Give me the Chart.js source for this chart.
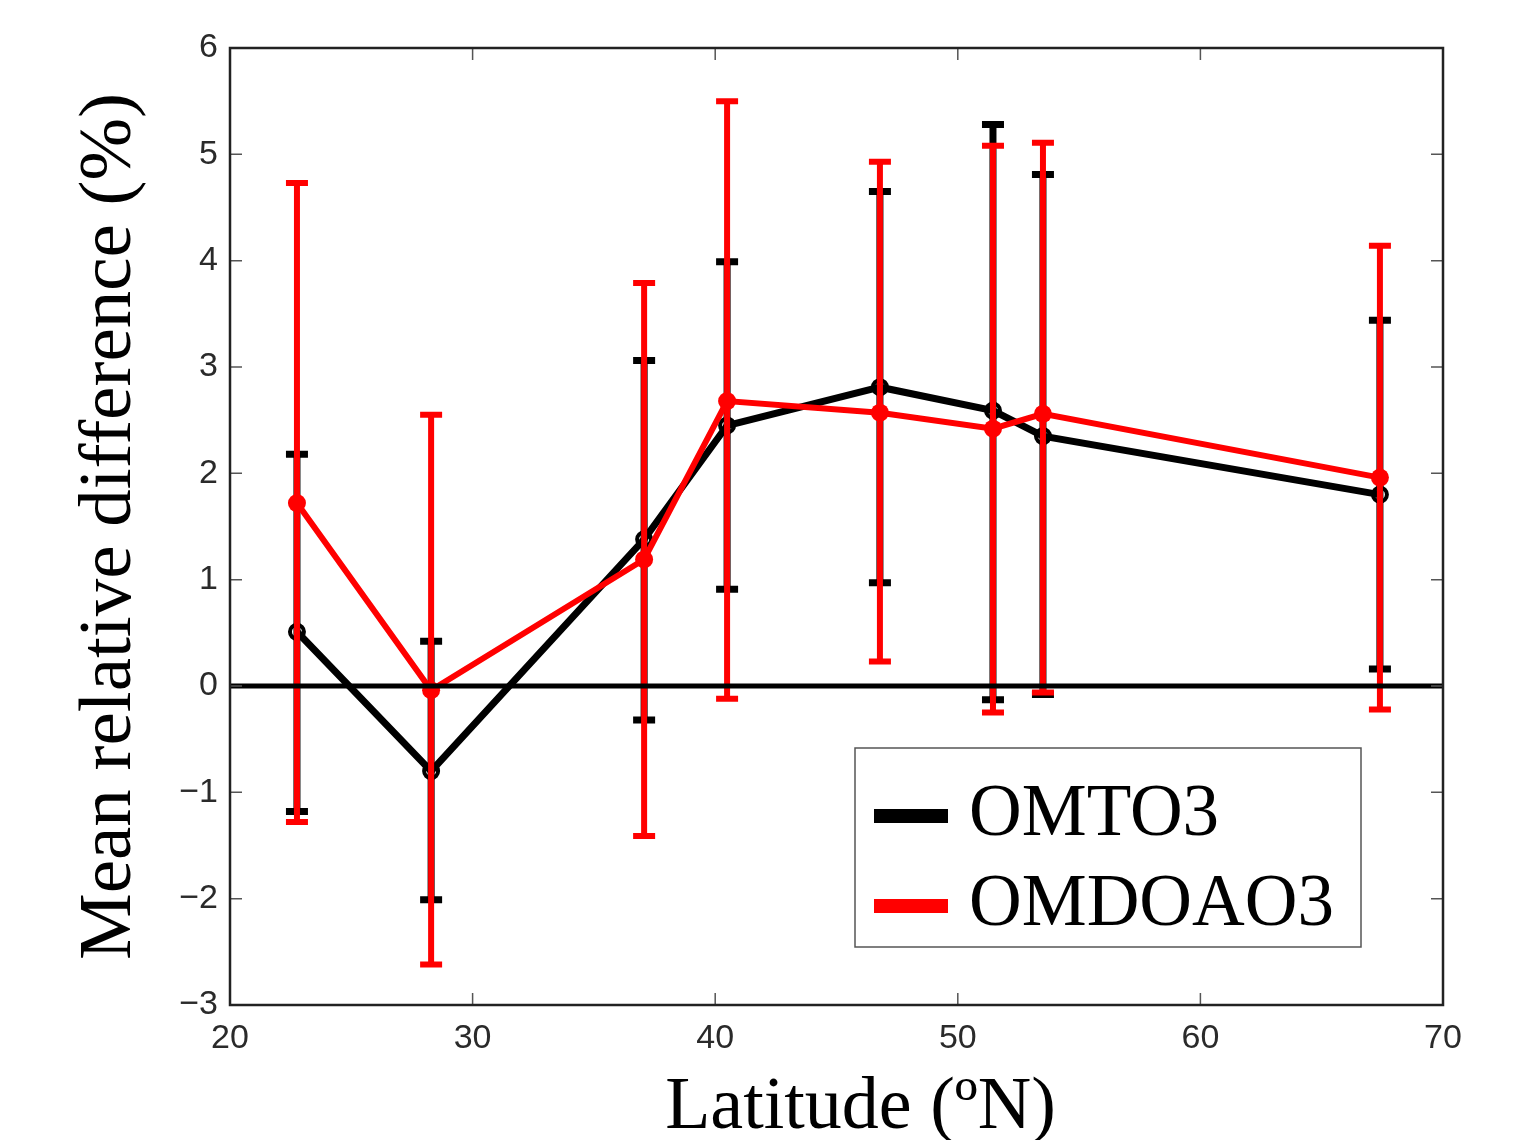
<!DOCTYPE html>
<html>
<head>
<meta charset="utf-8">
<script src="https://cdn.jsdelivr.net/npm/chart.js@4.4.1/dist/chart.umd.min.js"></script>
<style>
    html, body { margin: 0; padding: 0; background: #fff; }
    #grafico { display: block; }
</style>
</head>
<body>
<canvas id="grafico" width="1521" height="1140"></canvas>
<script>
// #region Dados

var latitudes = [22.76, 28.29, 37.07, 40.49, 46.79, 51.45, 53.51, 67.4];

var omto3Media = [0.51, -0.80, 1.38, 2.45, 2.81, 2.59, 2.35, 1.80];
var omto3Superior = [2.18, 0.42, 3.06, 3.99, 4.65, 5.28, 4.81, 3.44];
var omto3Inferior = [-1.18, -2.01, -0.32, 0.91, 0.97, -0.13, -0.08, 0.16];

var omdoao3Media = [1.72, -0.04, 1.19, 2.68, 2.57, 2.42, 2.56, 1.96];
var omdoao3Superior = [4.73, 2.55, 3.79, 5.50, 4.93, 5.08, 5.11, 4.14];
var omdoao3Inferior = [-1.28, -2.62, -1.41, -0.12, 0.23, -0.25, -0.06, -0.22];

var ticksX = [20, 30, 40, 50, 60, 70];
var ticksY = [-3, -2, -1, 0, 1, 2, 3, 4, 5, 6];

var tituloX = 'Latitude (ºN)';
var tituloY = 'Mean relative difference (%)';

// #endregion Dados

var FONTE_SERIFA = '"Liberation Serif", "DejaVu Serif", serif';

function montarPontos(valores) {
    return latitudes.map(function (lat, i) { return { x: lat, y: valores[i] }; });
}

// barras de erro desenhadas antes de cada serie, pelas escalas do grafico
var pluginBarrasErro = {
    id: 'barrasErro',
    beforeDatasetDraw: function (chart, args) {
        var ds = chart.data.datasets[args.index];
        if (!ds.erroSuperior) return;
        var ctx = chart.ctx, sx = chart.scales.x, sy = chart.scales.y;
        ctx.save();
        ctx.strokeStyle = ds.borderColor;
        ctx.lineWidth = ds.larguraErro;
        ctx.lineCap = 'butt';
        latitudes.forEach(function (lat, i) {
            var px = sx.getPixelForValue(lat);
            var top = sy.getPixelForValue(ds.erroSuperior[i]);
            var bot = sy.getPixelForValue(ds.erroInferior[i]);
            ctx.beginPath();
            ctx.moveTo(px, top); ctx.lineTo(px, bot);
            ctx.moveTo(px - 11, top); ctx.lineTo(px + 11, top);
            ctx.moveTo(px - 11, bot); ctx.lineTo(px + 11, bot);
            ctx.stroke();
        });
        ctx.restore();
    }
};

// linha do zero, moldura com ticks internos, titulo do eixo x e legenda em caixa
var pluginMoldura = {
    id: 'moldura',
    afterDatasetsDraw: function (chart) {
        var ctx = chart.ctx, a = chart.chartArea, sx = chart.scales.x, sy = chart.scales.y;
        ctx.save();

        var y0 = sy.getPixelForValue(0);
        ctx.strokeStyle = '#000';
        ctx.lineWidth = 5;
        ctx.beginPath();
        ctx.moveTo(a.left, y0); ctx.lineTo(a.right, y0);
        ctx.stroke();

        ctx.strokeStyle = '#555';
        ctx.lineWidth = 1.5;
        ctx.beginPath();
        sx.ticks.forEach(function (t) {
            var px = sx.getPixelForValue(t.value);
            ctx.moveTo(px, a.bottom); ctx.lineTo(px, a.bottom - 12);
            ctx.moveTo(px, a.top); ctx.lineTo(px, a.top + 12);
        });
        sy.ticks.forEach(function (t) {
            var py = sy.getPixelForValue(t.value);
            ctx.moveTo(a.left, py); ctx.lineTo(a.left + 12, py);
            ctx.moveTo(a.right, py); ctx.lineTo(a.right - 12, py);
        });
        ctx.stroke();

        ctx.strokeStyle = '#222';
        ctx.lineWidth = 2.5;
        ctx.strokeRect(a.left, a.top, a.right - a.left, a.bottom - a.top);
        ctx.restore();
    },
    afterDraw: function (chart) {
        var ctx = chart.ctx, a = chart.chartArea;
        ctx.save();

        // titulo do eixo x, um pouco a direita do centro como no original
        ctx.font = '74px ' + FONTE_SERIFA;
        ctx.fillStyle = '#000';
        ctx.textAlign = 'center';
        ctx.textBaseline = 'alphabetic';
        ctx.fillText(tituloX, (a.left + a.right) / 2 + 24, a.bottom + 123);

        var caixa = { left: a.right - 588, right: a.right - 82, top: a.bottom - 257, bottom: a.bottom - 58 };
        ctx.fillStyle = '#fff';
        ctx.fillRect(caixa.left, caixa.top, caixa.right - caixa.left, caixa.bottom - caixa.top);
        ctx.strokeStyle = '#555';
        ctx.lineWidth = 1.5;
        ctx.strokeRect(caixa.left, caixa.top, caixa.right - caixa.left, caixa.bottom - caixa.top);

        ctx.font = '73px ' + FONTE_SERIFA;
        ctx.textAlign = 'left';
        chart.data.datasets.forEach(function (ds, i) {
            var ly = caixa.top + 68 + i * 90;
            ctx.strokeStyle = ds.borderColor;
            ctx.lineWidth = 14;
            ctx.beginPath();
            ctx.moveTo(caixa.left + 19, ly); ctx.lineTo(caixa.left + 93, ly);
            ctx.stroke();
            ctx.fillStyle = '#000';
            ctx.fillText(ds.label, caixa.left + 114, ly + 19);
        });
        ctx.restore();
    }
};

function loadGrafico() {
    var ctx = document.getElementById('grafico').getContext('2d');
    var fonteTicks = { family: '"Liberation Sans", Arial, sans-serif', size: 34 };

    return new Chart(ctx, {
        type: 'scatter',
        data: {
            datasets: [
                {
                    label: 'OMTO3',
                    data: montarPontos(omto3Media),
                    erroSuperior: omto3Superior,
                    erroInferior: omto3Inferior,
                    larguraErro: 7,
                    showLine: true,
                    borderColor: '#000',
                    borderWidth: 7,
                    pointRadius: 7,
                    pointBorderWidth: 4,
                    pointBorderColor: '#000',
                    pointBackgroundColor: 'rgba(0,0,0,0)',
                    order: 2
                },
                {
                    label: 'OMDOAO3',
                    data: montarPontos(omdoao3Media),
                    erroSuperior: omdoao3Superior,
                    erroInferior: omdoao3Inferior,
                    larguraErro: 6,
                    showLine: true,
                    borderColor: '#ff0000',
                    borderWidth: 6,
                    pointRadius: 9,
                    pointBorderWidth: 0,
                    pointBackgroundColor: '#ff0000',
                    order: 1
                }
            ]
        },
        options: {
            responsive: false,
            animation: false,
            devicePixelRatio: 1,
            layout: { padding: { left: 0, top: 48, right: 78, bottom: 0 } },
            plugins: {
                legend: { display: false },
                tooltip: { enabled: false }
            },
            scales: {
                x: {
                    type: 'linear',
                    min: ticksX[0],
                    max: ticksX[ticksX.length - 1],
                    afterBuildTicks: function (s) { s.ticks = ticksX.map(function (v) { return { value: v }; }); },
                    afterFit: function (s) { s.height = 135; },
                    grid: { display: false, drawTicks: false },
                    border: { display: false },
                    ticks: { font: fonteTicks, color: '#2a2a2a', padding: 13, maxRotation: 0 }
                },
                y: {
                    type: 'linear',
                    min: ticksY[0],
                    max: ticksY[ticksY.length - 1],
                    afterBuildTicks: function (s) { s.ticks = ticksY.map(function (v) { return { value: v }; }); },
                    afterFit: function (s) { s.width = 230; },
                    grid: { display: false, drawTicks: false },
                    border: { display: false },
                    ticks: {
                        font: fonteTicks, color: '#2a2a2a', padding: 12,
                        callback: function (v) { return v < 0 ? '\u2212' + Math.abs(v) : String(v); }
                    },
                    title: {
                        display: true, text: tituloY, color: '#000',
                        font: { family: FONTE_SERIFA, size: 75, lineHeight: 1 },
                        padding: { top: 73, bottom: 0 }
                    }
                }
            }
        },
        plugins: [pluginBarrasErro, pluginMoldura]
    });
}

loadGrafico();
</script>
</body>
</html>
